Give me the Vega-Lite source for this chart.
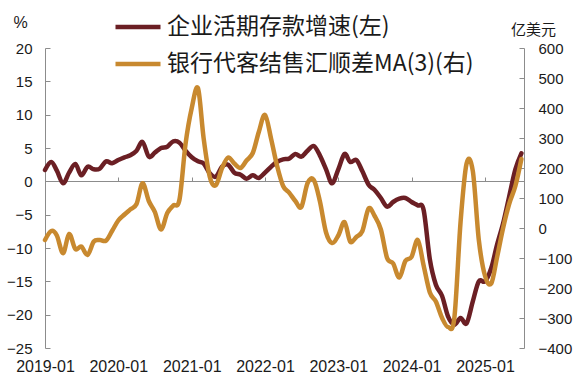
{
  "$schema": "https://vega.github.io/schema/vega-lite/v6.json",
  "width": 479,
  "height": 300,
  "autosize": {"type": "none"},
  "padding": {"left": 45, "top": 48, "right": 59, "bottom": 36},
  "background": "white",
  "config": {"view": {"stroke": null}, "font": "Liberation Sans"},
  "data": {"values": [
    {"date":"2019-01-01","series":"企业活期存款增速(左)","value":1.7},
    {"date":"2019-02-01","series":"企业活期存款增速(左)","value":2.9},
    {"date":"2019-03-01","series":"企业活期存款增速(左)","value":1.6},
    {"date":"2019-04-01","series":"企业活期存款增速(左)","value":-0.3},
    {"date":"2019-05-01","series":"企业活期存款增速(左)","value":1.3},
    {"date":"2019-06-01","series":"企业活期存款增速(左)","value":2.6},
    {"date":"2019-07-01","series":"企业活期存款增速(左)","value":0.9},
    {"date":"2019-08-01","series":"企业活期存款增速(左)","value":2.2},
    {"date":"2019-09-01","series":"企业活期存款增速(左)","value":1.8},
    {"date":"2019-10-01","series":"企业活期存款增速(左)","value":1.9},
    {"date":"2019-11-01","series":"企业活期存款增速(左)","value":3.0},
    {"date":"2019-12-01","series":"企业活期存款增速(左)","value":2.7},
    {"date":"2020-01-01","series":"企业活期存款增速(左)","value":3.2},
    {"date":"2020-02-01","series":"企业活期存款增速(左)","value":3.6},
    {"date":"2020-03-01","series":"企业活期存款增速(左)","value":3.9},
    {"date":"2020-04-01","series":"企业活期存款增速(左)","value":4.6},
    {"date":"2020-05-01","series":"企业活期存款增速(左)","value":5.9},
    {"date":"2020-06-01","series":"企业活期存款增速(左)","value":3.7},
    {"date":"2020-07-01","series":"企业活期存款增速(左)","value":4.3},
    {"date":"2020-08-01","series":"企业活期存款增速(左)","value":5.0},
    {"date":"2020-09-01","series":"企业活期存款增速(左)","value":5.2},
    {"date":"2020-10-01","series":"企业活期存款增速(左)","value":6.0},
    {"date":"2020-11-01","series":"企业活期存款增速(左)","value":5.8},
    {"date":"2020-12-01","series":"企业活期存款增速(左)","value":4.6},
    {"date":"2021-01-01","series":"企业活期存款增速(左)","value":3.6},
    {"date":"2021-02-01","series":"企业活期存款增速(左)","value":3.0},
    {"date":"2021-03-01","series":"企业活期存款增速(左)","value":2.7},
    {"date":"2021-04-01","series":"企业活期存款增速(左)","value":1.2},
    {"date":"2021-05-01","series":"企业活期存款增速(左)","value":0.7},
    {"date":"2021-06-01","series":"企业活期存款增速(左)","value":2.2},
    {"date":"2021-07-01","series":"企业活期存款增速(左)","value":2.5},
    {"date":"2021-08-01","series":"企业活期存款增速(左)","value":1.3},
    {"date":"2021-09-01","series":"企业活期存款增速(左)","value":1.0},
    {"date":"2021-10-01","series":"企业活期存款增速(左)","value":0.4},
    {"date":"2021-11-01","series":"企业活期存款增速(左)","value":0.9},
    {"date":"2021-12-01","series":"企业活期存款增速(左)","value":0.5},
    {"date":"2022-01-01","series":"企业活期存款增速(左)","value":1.3},
    {"date":"2022-02-01","series":"企业活期存款增速(左)","value":2.2},
    {"date":"2022-03-01","series":"企业活期存款增速(左)","value":2.9},
    {"date":"2022-04-01","series":"企业活期存款增速(左)","value":3.3},
    {"date":"2022-05-01","series":"企业活期存款增速(左)","value":3.4},
    {"date":"2022-06-01","series":"企业活期存款增速(左)","value":4.1},
    {"date":"2022-07-01","series":"企业活期存款增速(左)","value":3.7},
    {"date":"2022-08-01","series":"企业活期存款增速(左)","value":4.6},
    {"date":"2022-09-01","series":"企业活期存款增速(左)","value":5.3},
    {"date":"2022-10-01","series":"企业活期存款增速(左)","value":3.9},
    {"date":"2022-11-01","series":"企业活期存款增速(左)","value":1.8},
    {"date":"2022-12-01","series":"企业活期存款增速(左)","value":-0.3},
    {"date":"2023-01-01","series":"企业活期存款增速(左)","value":1.8},
    {"date":"2023-02-01","series":"企业活期存款增速(左)","value":4.1},
    {"date":"2023-03-01","series":"企业活期存款增速(左)","value":2.9},
    {"date":"2023-04-01","series":"企业活期存款增速(左)","value":3.2},
    {"date":"2023-05-01","series":"企业活期存款增速(左)","value":1.5},
    {"date":"2023-06-01","series":"企业活期存款增速(左)","value":-0.5},
    {"date":"2023-07-01","series":"企业活期存款增速(左)","value":-1.3},
    {"date":"2023-08-01","series":"企业活期存款增速(左)","value":-2.5},
    {"date":"2023-09-01","series":"企业活期存款增速(左)","value":-3.8},
    {"date":"2023-10-01","series":"企业活期存款增速(左)","value":-3.1},
    {"date":"2023-11-01","series":"企业活期存款增速(左)","value":-2.6},
    {"date":"2023-12-01","series":"企业活期存款增速(左)","value":-2.5},
    {"date":"2024-01-01","series":"企业活期存款增速(左)","value":-3.1},
    {"date":"2024-02-01","series":"企业活期存款增速(左)","value":-3.6},
    {"date":"2024-03-01","series":"企业活期存款增速(左)","value":-4.3},
    {"date":"2024-04-01","series":"企业活期存款增速(左)","value":-11.7},
    {"date":"2024-05-01","series":"企业活期存款增速(左)","value":-15.5},
    {"date":"2024-06-01","series":"企业活期存款增速(左)","value":-17.2},
    {"date":"2024-07-01","series":"企业活期存款增速(左)","value":-20.3},
    {"date":"2024-08-01","series":"企业活期存款增速(左)","value":-21.5},
    {"date":"2024-09-01","series":"企业活期存款增速(左)","value":-20.5},
    {"date":"2024-10-01","series":"企业活期存款增速(左)","value":-21.3},
    {"date":"2024-11-01","series":"企业活期存款增速(左)","value":-18.0},
    {"date":"2024-12-01","series":"企业活期存款增速(左)","value":-15.0},
    {"date":"2025-01-01","series":"企业活期存款增速(左)","value":-15.0},
    {"date":"2025-02-01","series":"企业活期存款增速(左)","value":-13.0},
    {"date":"2025-03-01","series":"企业活期存款增速(左)","value":-9.6},
    {"date":"2025-04-01","series":"企业活期存款增速(左)","value":-6.3},
    {"date":"2025-05-01","series":"企业活期存款增速(左)","value":-2.3},
    {"date":"2025-06-01","series":"企业活期存款增速(左)","value":1.8},
    {"date":"2025-07-01","series":"企业活期存款增速(左)","value":4.2},
    {"date":"2019-01-01","series":"银行代客结售汇顺差MA(3)(右)","value":-40},
    {"date":"2019-02-01","series":"银行代客结售汇顺差MA(3)(右)","value":-10},
    {"date":"2019-03-01","series":"银行代客结售汇顺差MA(3)(右)","value":-25},
    {"date":"2019-04-01","series":"银行代客结售汇顺差MA(3)(右)","value":-84},
    {"date":"2019-05-01","series":"银行代客结售汇顺差MA(3)(右)","value":-20},
    {"date":"2019-06-01","series":"银行代客结售汇顺差MA(3)(右)","value":-70},
    {"date":"2019-07-01","series":"银行代客结售汇顺差MA(3)(右)","value":-62},
    {"date":"2019-08-01","series":"银行代客结售汇顺差MA(3)(右)","value":-90},
    {"date":"2019-09-01","series":"银行代客结售汇顺差MA(3)(右)","value":-45},
    {"date":"2019-10-01","series":"银行代客结售汇顺差MA(3)(右)","value":-40},
    {"date":"2019-11-01","series":"银行代客结售汇顺差MA(3)(右)","value":-42},
    {"date":"2019-12-01","series":"银行代客结售汇顺差MA(3)(右)","value":-10},
    {"date":"2020-01-01","series":"银行代客结售汇顺差MA(3)(右)","value":25},
    {"date":"2020-02-01","series":"银行代客结售汇顺差MA(3)(右)","value":45},
    {"date":"2020-03-01","series":"银行代客结售汇顺差MA(3)(右)","value":62},
    {"date":"2020-04-01","series":"银行代客结售汇顺差MA(3)(右)","value":80},
    {"date":"2020-05-01","series":"银行代客结售汇顺差MA(3)(右)","value":149},
    {"date":"2020-06-01","series":"银行代客结售汇顺差MA(3)(右)","value":90},
    {"date":"2020-07-01","series":"银行代客结售汇顺差MA(3)(右)","value":54},
    {"date":"2020-08-01","series":"银行代客结售汇顺差MA(3)(右)","value":-5},
    {"date":"2020-09-01","series":"银行代客结售汇顺差MA(3)(右)","value":50},
    {"date":"2020-10-01","series":"银行代客结售汇顺差MA(3)(右)","value":75},
    {"date":"2020-11-01","series":"银行代客结售汇顺差MA(3)(右)","value":95},
    {"date":"2020-12-01","series":"银行代客结售汇顺差MA(3)(右)","value":280},
    {"date":"2021-01-01","series":"银行代客结售汇顺差MA(3)(右)","value":400},
    {"date":"2021-02-01","series":"银行代客结售汇顺差MA(3)(右)","value":466},
    {"date":"2021-03-01","series":"银行代客结售汇顺差MA(3)(右)","value":300},
    {"date":"2021-04-01","series":"银行代客结售汇顺差MA(3)(右)","value":170},
    {"date":"2021-05-01","series":"银行代客结售汇顺差MA(3)(右)","value":143},
    {"date":"2021-06-01","series":"银行代客结售汇顺差MA(3)(右)","value":200},
    {"date":"2021-07-01","series":"银行代客结售汇顺差MA(3)(右)","value":235},
    {"date":"2021-08-01","series":"银行代客结售汇顺差MA(3)(右)","value":215},
    {"date":"2021-09-01","series":"银行代客结售汇顺差MA(3)(右)","value":200},
    {"date":"2021-10-01","series":"银行代客结售汇顺差MA(3)(右)","value":225},
    {"date":"2021-11-01","series":"银行代客结售汇顺差MA(3)(右)","value":250},
    {"date":"2021-12-01","series":"银行代客结售汇顺差MA(3)(右)","value":320},
    {"date":"2022-01-01","series":"银行代客结售汇顺差MA(3)(右)","value":377},
    {"date":"2022-02-01","series":"银行代客结售汇顺差MA(3)(右)","value":295},
    {"date":"2022-03-01","series":"银行代客结售汇顺差MA(3)(右)","value":210},
    {"date":"2022-04-01","series":"银行代客结售汇顺差MA(3)(右)","value":140},
    {"date":"2022-05-01","series":"银行代客结售汇顺差MA(3)(右)","value":118},
    {"date":"2022-06-01","series":"银行代客结售汇顺差MA(3)(右)","value":90},
    {"date":"2022-07-01","series":"银行代客结售汇顺差MA(3)(右)","value":70},
    {"date":"2022-08-01","series":"银行代客结售汇顺差MA(3)(右)","value":150},
    {"date":"2022-09-01","series":"银行代客结售汇顺差MA(3)(右)","value":160},
    {"date":"2022-10-01","series":"银行代客结售汇顺差MA(3)(右)","value":90},
    {"date":"2022-11-01","series":"银行代客结售汇顺差MA(3)(右)","value":-15},
    {"date":"2022-12-01","series":"银行代客结售汇顺差MA(3)(右)","value":-50},
    {"date":"2023-01-01","series":"银行代客结售汇顺差MA(3)(右)","value":-25},
    {"date":"2023-02-01","series":"银行代客结售汇顺差MA(3)(右)","value":20},
    {"date":"2023-03-01","series":"银行代客结售汇顺差MA(3)(右)","value":-45},
    {"date":"2023-04-01","series":"银行代客结售汇顺差MA(3)(右)","value":-30},
    {"date":"2023-05-01","series":"银行代客结售汇顺差MA(3)(右)","value":-10},
    {"date":"2023-06-01","series":"银行代客结售汇顺差MA(3)(右)","value":65},
    {"date":"2023-07-01","series":"银行代客结售汇顺差MA(3)(右)","value":40},
    {"date":"2023-08-01","series":"银行代客结售汇顺差MA(3)(右)","value":-5},
    {"date":"2023-09-01","series":"银行代客结售汇顺差MA(3)(右)","value":-100},
    {"date":"2023-10-01","series":"银行代客结售汇顺差MA(3)(右)","value":-118},
    {"date":"2023-11-01","series":"银行代客结售汇顺差MA(3)(右)","value":-165},
    {"date":"2023-12-01","series":"银行代客结售汇顺差MA(3)(右)","value":-110},
    {"date":"2024-01-01","series":"银行代客结售汇顺差MA(3)(右)","value":-96},
    {"date":"2024-02-01","series":"银行代客结售汇顺差MA(3)(右)","value":-40},
    {"date":"2024-03-01","series":"银行代客结售汇顺差MA(3)(右)","value":-125},
    {"date":"2024-04-01","series":"银行代客结售汇顺差MA(3)(右)","value":-215},
    {"date":"2024-05-01","series":"银行代客结售汇顺差MA(3)(右)","value":-245},
    {"date":"2024-06-01","series":"银行代客结售汇顺差MA(3)(右)","value":-300},
    {"date":"2024-07-01","series":"银行代客结售汇顺差MA(3)(右)","value":-330},
    {"date":"2024-08-01","series":"银行代客结售汇顺差MA(3)(右)","value":-300},
    {"date":"2024-09-01","series":"银行代客结售汇顺差MA(3)(右)","value":20},
    {"date":"2024-10-01","series":"银行代客结售汇顺差MA(3)(右)","value":215},
    {"date":"2024-11-01","series":"银行代客结售汇顺差MA(3)(右)","value":190},
    {"date":"2024-12-01","series":"银行代客结售汇顺差MA(3)(右)","value":-40},
    {"date":"2025-01-01","series":"银行代客结售汇顺差MA(3)(右)","value":-160},
    {"date":"2025-02-01","series":"银行代客结售汇顺差MA(3)(右)","value":-185},
    {"date":"2025-03-01","series":"银行代客结售汇顺差MA(3)(右)","value":-100},
    {"date":"2025-04-01","series":"银行代客结售汇顺差MA(3)(右)","value":0},
    {"date":"2025-05-01","series":"银行代客结售汇顺差MA(3)(右)","value":80},
    {"date":"2025-06-01","series":"银行代客结售汇顺差MA(3)(右)","value":140},
    {"date":"2025-07-01","series":"银行代客结售汇顺差MA(3)(右)","value":230}
  ]},
  "encoding": {
    "x": {
      "field": "date", "type": "temporal",
      "scale": {"type": "utc", "domain": [{"year": 2019, "month": 1, "date": 1, "utc": true}, {"year": 2025, "month": 7, "date": 14, "utc": true}]},
      "axis": {
        "title": null,
        "labelExpr": "utcFormat(datum.value, '%Y-%m')",
        "values": [
          {"year": 2019, "month": 1, "date": 1, "utc": true},
          {"year": 2020, "month": 1, "date": 1, "utc": true},
          {"year": 2021, "month": 1, "date": 1, "utc": true},
          {"year": 2022, "month": 1, "date": 1, "utc": true},
          {"year": 2023, "month": 1, "date": 1, "utc": true},
          {"year": 2024, "month": 1, "date": 1, "utc": true},
          {"year": 2025, "month": 1, "date": 1, "utc": true}
        ],
        "offset": -167, "grid": false,
        "domainColor": "#8c8c8c", "domainWidth": 1,
        "tickColor": "#8c8c8c", "tickSize": -4, "tickWidth": 1,
        "labelPadding": 181, "labelFont": "Liberation Sans", "labelFontSize": 16,
        "labelColor": "#1a1a1a", "labelFlush": false, "labelOverlap": false, "labelAngle": 0
      }
    },
    "color": {
      "field": "series", "type": "nominal",
      "scale": {"domain": ["企业活期存款增速(左)", "银行代客结售汇顺差MA(3)(右)"], "range": ["#6B1F24", "#C8892F"]},
      "legend": {
        "title": null, "orient": "none", "legendX": 68, "legendY": -46, "direction": "vertical",
        "symbolType": "stroke", "symbolSize": 2025, "symbolStrokeWidth": 4.5,
        "labelFont": "Noto Sans CJK SC", "labelFontSize": 23, "labelColor": "#1a1a1a",
        "labelOffset": 4, "rowPadding": -9, "labelLimit": 0, "padding": 0
      }
    }
  },
  "layer": [
    {
      "transform": [{"filter": {"field": "series", "equal": "企业活期存款增速(左)"}}],
      "mark": {"type": "line", "strokeWidth": 4.5, "interpolate": "cardinal", "tension": 0, "strokeCap": "round", "strokeJoin": "round"},
      "encoding": {
        "y": {
          "field": "value", "type": "quantitative",
          "scale": {"domain": [-25, 20], "nice": false, "zero": false},
          "axis": {
            "orient": "left", "values": [-25, -20, -15, -10, -5, 0, 5, 10, 15, 20], "grid": false,
            "title": "%", "titleAngle": 0, "titleX": -25, "titleY": -26, "titleAlign": "center", "titleBaseline": "middle",
            "titleFont": "Liberation Sans", "titleFontSize": 16, "titleFontWeight": "normal", "titleColor": "#1a1a1a",
            "domainColor": "#8c8c8c", "tickColor": "#8c8c8c", "tickSize": -5,
            "labelPadding": 18, "labelFont": "Liberation Sans", "labelFontSize": 15, "labelColor": "#1a1a1a"
          }
        }
      }
    },
    {
      "transform": [{"filter": {"field": "series", "equal": "银行代客结售汇顺差MA(3)(右)"}}],
      "mark": {"type": "line", "strokeWidth": 4.5, "interpolate": "cardinal", "tension": 0, "strokeCap": "round", "strokeJoin": "round"},
      "encoding": {
        "y": {
          "field": "value", "type": "quantitative",
          "scale": {"domain": [-400, 600], "nice": false, "zero": false},
          "axis": {
            "orient": "right", "values": [-400, -300, -200, -100, 0, 100, 200, 300, 400, 500, 600], "grid": false,
            "title": "亿美元", "titleAngle": 0, "titleX": 9, "titleY": -19, "titleAlign": "center", "titleBaseline": "middle",
            "titleFont": "Noto Sans CJK SC", "titleFontSize": 15, "titleFontWeight": "normal", "titleColor": "#1a1a1a",
            "domainColor": "#8c8c8c", "tickColor": "#8c8c8c", "tickSize": -5,
            "labelPadding": 19, "labelFont": "Liberation Sans", "labelFontSize": 15, "labelColor": "#1a1a1a"
          }
        }
      }
    }
  ],
  "resolve": {"scale": {"y": "independent"}}
}
